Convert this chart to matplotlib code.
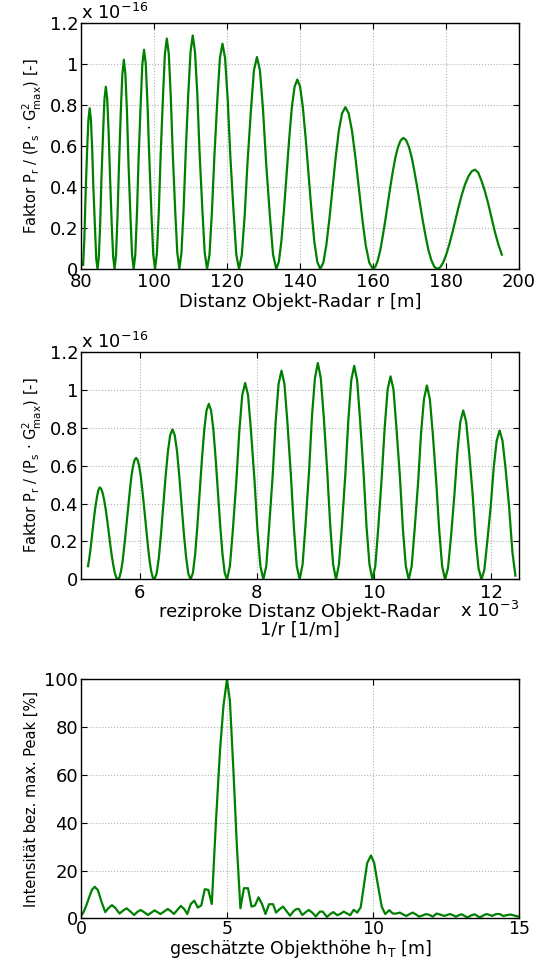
import matplotlib
matplotlib.use('Agg')
import matplotlib.pyplot as plt
from matplotlib.ticker import FormatStrFormatter

# MATLAB-artiger Stil
plt.rcParams.update({
    'font.family': 'DejaVu Sans',
    'font.size': 13,
    'mathtext.fontset': 'dejavusans',
    'xtick.direction': 'in',
    'ytick.direction': 'in',
    'xtick.top': True,
    'ytick.right': True,
    'xtick.major.size': 4,
    'ytick.major.size': 4,
    'xtick.major.pad': 3,
    'ytick.major.pad': 2,
    'axes.linewidth': 1.0,
})

# reziproke Distanz 1/r [1e-3 1/m] und Faktor Pr/(Ps*Gmax^2) [1e-16]
inv_r = [5.12, 5.145, 5.17, 5.195, 5.22, 5.245, 5.27, 5.295, 5.32,
         5.346, 5.372, 5.398, 5.424, 5.45, 5.475, 5.501, 5.527, 5.553, 5.579, 5.605,
         5.63, 5.656, 5.682, 5.708, 5.733, 5.759, 5.785, 5.811, 5.837, 5.862, 5.888, 5.914,
         5.94, 5.966, 5.992, 6.018, 6.043, 6.069, 6.095, 6.121, 6.147, 6.172, 6.198, 6.224,
         6.25, 6.289, 6.328, 6.366, 6.405, 6.444, 6.483, 6.521,
         6.56, 6.599, 6.638, 6.676, 6.715, 6.754, 6.793, 6.831,
         6.87, 6.909, 6.948, 6.986, 7.025, 7.064, 7.103, 7.141,
         7.18, 7.219, 7.258, 7.296, 7.335, 7.374, 7.413, 7.451,
         7.49, 7.54, 7.59, 7.65, 7.70, 7.75, 7.80, 7.85, 7.90, 7.96, 8.01, 8.06,
         8.11, 8.16, 8.21, 8.27, 8.32, 8.37, 8.42, 8.47, 8.52, 8.58, 8.63, 8.68,
         8.73, 8.78, 8.83, 8.89, 8.94, 8.99, 9.04, 9.09, 9.14, 9.20, 9.25, 9.30,
         9.35, 9.40, 9.45, 9.51, 9.56, 9.61, 9.66, 9.71, 9.76, 9.82, 9.87, 9.92,
         9.97, 10.02, 10.07, 10.13, 10.18, 10.23, 10.28, 10.33, 10.38, 10.44, 10.49, 10.54,
         10.59, 10.64, 10.69, 10.75, 10.80, 10.85, 10.90, 10.95, 11.00, 11.06, 11.11, 11.16,
         11.21, 11.26, 11.31, 11.37, 11.42, 11.47, 11.52, 11.57, 11.62, 11.68, 11.73, 11.78,
         11.83, 11.88, 11.93, 11.99, 12.04, 12.09, 12.14, 12.19, 12.24, 12.30, 12.36, 12.41]
faktor = [0.07, 0.12, 0.18, 0.25, 0.32, 0.38, 0.43, 0.47, 0.485,
          0.477, 0.452, 0.414, 0.364, 0.305, 0.243, 0.179, 0.121, 0.071, 0.032, 0.008,
          0.0, 0.011, 0.043, 0.093, 0.16, 0.237, 0.32, 0.403, 0.48, 0.547, 0.597, 0.629,
          0.64, 0.629, 0.597, 0.547, 0.48, 0.403, 0.32, 0.237, 0.16, 0.093, 0.043, 0.011,
          0.0, 0.03, 0.115, 0.244, 0.395, 0.546, 0.675, 0.76,
          0.79, 0.76, 0.675, 0.546, 0.395, 0.244, 0.115, 0.03,
          0.0, 0.035, 0.135, 0.286, 0.463, 0.639, 0.79, 0.89,
          0.925, 0.89, 0.79, 0.639, 0.463, 0.286, 0.135, 0.035,
          0.0, 0.07, 0.26, 0.52, 0.78, 0.97, 1.035, 0.97, 0.78, 0.52, 0.26, 0.07,
          0.0, 0.07, 0.28, 0.55, 0.83, 1.03, 1.10, 1.03, 0.83, 0.55, 0.28, 0.07,
          0.0, 0.08, 0.29, 0.57, 0.86, 1.06, 1.14, 1.06, 0.86, 0.57, 0.29, 0.08,
          0.0, 0.08, 0.28, 0.56, 0.84, 1.05, 1.125, 1.05, 0.84, 0.56, 0.28, 0.08,
          0.0, 0.07, 0.27, 0.54, 0.80, 1.00, 1.07, 1.00, 0.80, 0.54, 0.27, 0.07,
          0.0, 0.07, 0.26, 0.51, 0.77, 0.95, 1.022, 0.95, 0.77, 0.51, 0.26, 0.07,
          0.0, 0.06, 0.22, 0.45, 0.67, 0.83, 0.89, 0.83, 0.67, 0.45, 0.22, 0.06,
          0.0, 0.05, 0.20, 0.39, 0.59, 0.73, 0.785, 0.73, 0.59, 0.39, 0.14, 0.02]

# Distanz r [m]
distanz = [1000.0 / u for u in inv_r]

# geschaetzte Objekthoehe h_T [m] und Intensitaet [%]
hoehe = [0.00, 0.08, 0.20, 0.30, 0.38, 0.47, 0.58, 0.70, 0.83, 0.94,
         1.06, 1.18, 1.32, 1.44, 1.56, 1.68, 1.82, 1.92, 2.04, 2.16,
         2.29, 2.40, 2.52, 2.62, 2.72, 2.85, 2.97, 3.08, 3.18, 3.30,
         3.42, 3.54, 3.64, 3.76, 3.88, 4.00, 4.12, 4.24, 4.36, 4.48,
         4.62, 4.76, 4.88, 5.00, 5.10, 5.22, 5.34, 5.46, 5.58, 5.72,
         5.84, 5.96, 6.08, 6.20, 6.32, 6.44, 6.58, 6.68, 6.80, 6.92,
         7.04, 7.16, 7.28, 7.38, 7.46, 7.58, 7.70, 7.80, 7.92, 8.04,
         8.18, 8.28, 8.42, 8.54, 8.64, 8.78, 8.90, 9.00, 9.12, 9.22,
         9.34, 9.46, 9.58, 9.70, 9.80, 9.93, 10.04, 10.16, 10.30, 10.42,
         10.56, 10.68, 10.80, 10.92, 11.04, 11.14, 11.26, 11.36, 11.48, 11.58,
         11.70, 11.82, 11.94, 12.05, 12.18, 12.30, 12.44, 12.54, 12.64, 12.76,
         12.84, 12.96, 13.04, 13.14, 13.24, 13.36, 13.48, 13.58, 13.66, 13.78,
         13.88, 14.00, 14.08, 14.22, 14.34, 14.46, 14.58, 14.70, 14.84, 15.00]
intensitaet = [1.0, 2.4, 6.0, 9.5, 12.0, 13.2, 11.8, 7.0, 2.6, 4.3,
               5.5, 4.3, 2.0, 3.2, 4.2, 3.0, 1.4, 2.6, 3.5, 2.6,
               1.4, 2.3, 3.3, 2.6, 1.8, 2.9, 3.9, 3.0, 1.8, 3.5,
               5.2, 3.8, 1.8, 6.0, 7.4, 4.5, 5.4, 12.2, 11.9, 6.0,
               40.0, 70.0, 89.0, 100.0, 91.0, 62.0, 30.0, 4.2, 12.6, 12.6,
               4.9, 5.4, 8.8, 6.0, 1.8, 5.9, 5.9, 2.4, 3.8, 4.9,
               3.0, 1.1, 3.0, 3.9, 3.9, 1.4, 2.6, 3.5, 2.4, 0.8,
               2.8, 2.8, 0.6, 1.8, 2.6, 1.3, 2.0, 2.8, 2.0, 1.3,
               3.6, 2.4, 4.6, 14.6, 23.0, 26.3, 23.3, 14.6, 4.9, 1.8,
               3.4, 2.0, 2.0, 2.4, 1.6, 1.0, 1.8, 2.4, 1.6, 0.7,
               1.2, 1.8, 1.4, 0.7, 2.0, 1.6, 1.0, 1.4, 1.8, 1.2,
               0.7, 1.4, 1.7, 1.0, 0.4, 1.2, 1.7, 1.0, 0.4, 1.2,
               1.8, 1.4, 1.0, 1.8, 1.8, 1.0, 1.3, 1.6, 1.2, 0.7]

farbe = '#008000'
ylabel_faktor = r'Faktor P$_\mathrm{r}$ / (P$_\mathrm{s}$ · G$^\mathrm{2}_\mathrm{max}$) [-]'
ylabel_size = 10.5


def matlab_grid(ax):
    ax.grid(True, linestyle=':', color='#b4b4b4', linewidth=0.8)
    ax.set_axisbelow(True)


fig = plt.figure(figsize=(5.4, 9.6), dpi=100)

# Distanz
ax1 = fig.add_axes([0.15, 0.7198, 0.811, 0.256])
ax1.plot(distanz, faktor, color=farbe, linewidth=1.6)
ax1.set_xlim(80, 200)
ax1.set_ylim(0, 1.2)
ax1.set_xticks([80, 100, 120, 140, 160, 180, 200])
ax1.set_yticks([0, 0.2, 0.4, 0.6, 0.8, 1.0, 1.2])
ax1.yaxis.set_major_formatter(FormatStrFormatter('%g'))
ax1.set_xlabel('Distanz Objekt-Radar r [m]', labelpad=1)
ax1.set_ylabel(ylabel_faktor, fontsize=ylabel_size)
ax1.text(0.0, 1.0, r'x 10$^{-16}$', transform=ax1.transAxes, ha='left', va='bottom')
matlab_grid(ax1)

# reziproke Distanz
ax2 = fig.add_axes([0.15, 0.3964, 0.811, 0.2373])
ax2.plot(inv_r, faktor, color=farbe, linewidth=1.6)
ax2.set_xlim(5.0, 12.47)
ax2.set_ylim(0, 1.2)
ax2.set_xticks([6, 8, 10, 12])
ax2.set_yticks([0, 0.2, 0.4, 0.6, 0.8, 1.0, 1.2])
ax2.yaxis.set_major_formatter(FormatStrFormatter('%g'))
ax2.set_xlabel('reziproke Distanz Objekt-Radar\n1/r [1/m]', labelpad=1, linespacing=1.0)
ax2.set_ylabel(ylabel_faktor, fontsize=ylabel_size)
ax2.text(0.0, 1.0, r'x 10$^{-16}$', transform=ax2.transAxes, ha='left', va='bottom')
ax2.text(1.0, -0.095, r'x 10$^{-3}$', transform=ax2.transAxes, ha='right', va='top')
matlab_grid(ax2)

# Objekthoehe
ax3 = fig.add_axes([0.15, 0.0434, 0.811, 0.249])
ax3.plot(hoehe, intensitaet, color=farbe, linewidth=1.6)
ax3.set_xlim(0, 15)
ax3.set_ylim(0, 100)
ax3.set_xticks([0, 5, 10, 15])
ax3.set_yticks([0, 20, 40, 60, 80, 100])
ax3.tick_params(axis='x', pad=1.5, labelsize=12.5)
ax3.set_xlabel(r'geschätzte Objekthöhe h$_\mathrm{T}$ [m]', labelpad=0, fontsize=12.5)
ax3.set_ylabel('Intensität bez. max. Peak [%]', fontsize=ylabel_size)
matlab_grid(ax3)

fig.savefig('out.png', dpi=100)
plt.close(fig)
